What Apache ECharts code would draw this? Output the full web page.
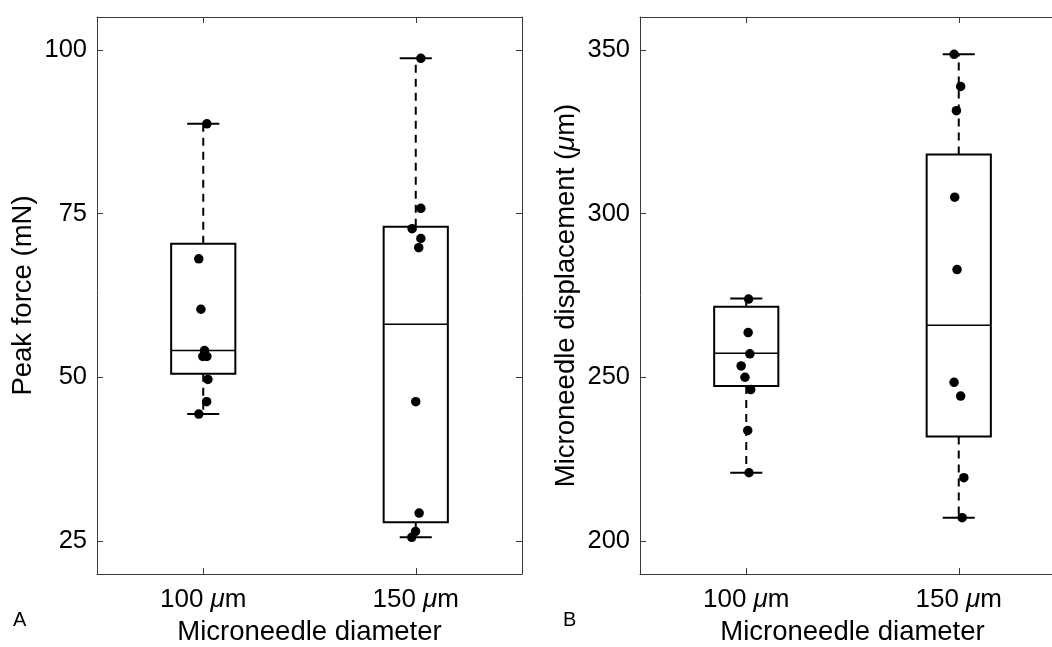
<!DOCTYPE html>
<html>
<head>
<meta charset="utf-8">
<script src="https://cdn.jsdelivr.net/npm/echarts@6/dist/echarts.min.js"></script>
<style>html,body{margin:0;padding:0;background:#fff}#c{width:1052px;height:647px}</style>
</head>
<body>
<div id="c"></div>
<script>
// ---- data ----
const categories = ['100', '150'];
const forceTicks = [25, 50, 75, 100];
const dispTicks = [200, 250, 300, 350];

// box stats: [lower whisker, Q1, median, Q3, upper whisker]
const forceBox100 = [44.4, 50.55, 54.1, 70.4, 88.7];
const forceBox150 = [25.6, 27.9, 58.1, 73.0, 98.7];
const dispBox100 = [220.9, 247.4, 257.4, 271.6, 274.1];
const dispBox150 = [207.2, 232.0, 265.9, 318.0, 348.6];

// individual points (values) and their horizontal jitter (category units)
const force100 = [88.7, 68.1, 60.4, 54.1, 53.2, 53.2, 49.7, 46.3, 44.4];
const force100Jit = [0.017, -0.021, -0.011, 0.006, -0.002, 0.017, 0.022, 0.016, -0.021];
const force150 = [98.7, 75.8, 72.7, 71.2, 69.8, 46.3, 29.3, 26.5, 25.6];
const force150Jit = [0.024, 0.024, -0.017, 0.024, 0.014, 0.0, 0.016, -0.001, -0.019];
const disp100 = [273.9, 263.7, 257.2, 253.5, 250.05, 246.3, 233.8, 220.9];
const disp100Jit = [0.011, 0.009, 0.017, -0.024, -0.006, 0.021, 0.007, 0.013];
const disp150 = [348.6, 338.8, 331.4, 305.0, 282.9, 248.5, 244.3, 219.4, 207.2];
const disp150Jit = [-0.022, 0.009, -0.011, -0.019, -0.008, -0.022, 0.009, 0.024, 0.016];

// ---- styling / layout ----
const FONT = "'Liberation Sans', Arial, Helvetica, sans-serif";
const FRAME = '#3a3a3a';

function pts(idx, vals, jit) {
  return vals.map((v, i) => [idx + jit[i], v]);
}

function renderBox(params, api) {
  const c = api.value(0);
  const lo = api.coord([c, api.value(1)]);
  const q1 = api.coord([c, api.value(2)]);
  const md = api.coord([c, api.value(3)]);
  const q3 = api.coord([c, api.value(4)]);
  const hi = api.coord([c, api.value(5)]);
  const band = api.size([1, 0])[0];
  const bw = band * 0.302, cw = bw * 0.5;
  const x = q1[0];
  const solid = {stroke: '#000', lineWidth: 2, fill: null};
  const dashed = {stroke: '#000', lineWidth: 2, lineDash: [8, 6], fill: null};
  return {
    type: 'group',
    children: [
      {type: 'line', shape: {x1: x, y1: q3[1], x2: x, y2: hi[1]}, style: dashed},
      {type: 'line', shape: {x1: x, y1: q1[1], x2: x, y2: lo[1]}, style: dashed},
      {type: 'line', shape: {x1: x - cw / 2, y1: hi[1], x2: x + cw / 2, y2: hi[1]}, style: solid},
      {type: 'line', shape: {x1: x - cw / 2, y1: lo[1], x2: x + cw / 2, y2: lo[1]}, style: solid},
      {type: 'rect', shape: {x: x - bw / 2, y: q3[1], width: bw, height: q1[1] - q3[1]},
        style: {stroke: '#000', lineWidth: 2, fill: 'none'}},
      {type: 'line', shape: {x1: x - bw / 2, y1: md[1], x2: x + bw / 2, y2: md[1]},
        style: {stroke: '#000', lineWidth: 1.5}}
    ]
  };
}

const catLabel = {
  color: '#000', margin: 13,
  formatter: v => '{n|' + v + ' }{i|\u03bc}{n|m}',
  rich: {
    n: {fontSize: 26, fontFamily: FONT, color: '#000'},
    i: {fontSize: 26, fontFamily: FONT, color: '#000', fontStyle: 'italic'}
  }
};

function xAxesFor(g) {
  return [
    {
      type: 'category', gridIndex: g, position: 'bottom', data: categories,
      name: 'Microneedle diameter', nameLocation: 'middle', nameGap: 44,
      nameTextStyle: {fontSize: 27.5, fontFamily: FONT, color: '#000'},
      axisLine: {show: true, onZero: false, lineStyle: {color: FRAME, width: 1}},
      axisTick: {show: true, inside: true, length: 6, alignWithLabel: true, lineStyle: {color: FRAME}},
      axisLabel: catLabel,
      splitLine: {show: false}
    },
    {
      type: 'category', gridIndex: g, position: 'top', data: categories,
      axisLine: {show: true, onZero: false, lineStyle: {color: FRAME, width: 1}},
      axisTick: {show: true, inside: true, length: 6, alignWithLabel: true, lineStyle: {color: FRAME}},
      axisLabel: {show: false}, splitLine: {show: false}
    },
    {
      type: 'value', gridIndex: g, min: -0.5, max: 1.5, show: false,
      axisLine: {show: false, onZero: false},
      splitLine: {show: false}
    }
  ];
}

function yAxesFor(g, min, max, ticks, name, rich) {
  return [
    {
      type: 'value', gridIndex: g, position: 'left', min: min, max: max,
      name: name, nameLocation: 'middle', nameGap: 60,
      nameTextStyle: {fontSize: 27.5, fontFamily: FONT, color: '#000', rich: rich},
      axisLine: {show: true, onZero: false, lineStyle: {color: FRAME, width: 1}},
      axisTick: {show: true, inside: true, length: 6, customValues: ticks, lineStyle: {color: FRAME}},
      axisLabel: {show: true, customValues: ticks, color: '#000', fontSize: 25.5, fontFamily: FONT, margin: 10},
      splitLine: {show: false}
    },
    {
      type: 'value', gridIndex: g, position: 'right', min: min, max: max,
      axisLine: {show: true, onZero: false, lineStyle: {color: FRAME, width: 1}},
      axisTick: {show: true, inside: true, length: 6, customValues: ticks, lineStyle: {color: FRAME}},
      axisLabel: {show: false}, splitLine: {show: false}
    }
  ];
}

const muRich = {
  i: {fontSize: 27.5, fontFamily: FONT, color: '#000', fontStyle: 'italic'}
};

const chart = echarts.init(document.getElementById('c'), null, {renderer: 'canvas'});
chart.setOption({
  backgroundColor: '#fff',
  animation: false,
  grid: [
    {left: 97, top: 17, width: 425, height: 557, outerBoundsMode: 'none', containLabel: false},
    {left: 640, top: 17, width: 425, height: 557, outerBoundsMode: 'none', containLabel: false}
  ],
  xAxis: [...xAxesFor(0), ...xAxesFor(1)],
  yAxis: [
    ...yAxesFor(0, 20, 105, forceTicks, 'Peak force (mN)', muRich),
    ...yAxesFor(1, 190, 360, dispTicks, 'Microneedle displacement ({i|\u03bc}m)', muRich)
  ],
  graphic: [
    {type: 'text', left: 13, top: 610, style: {text: 'A', font: "20px 'Liberation Sans', Arial", fill: '#000'}},
    {type: 'text', left: 563, top: 610, style: {text: 'B', font: "20px 'Liberation Sans', Arial", fill: '#000'}}
  ],
  series: [
    {
      type: 'custom', xAxisIndex: 0, yAxisIndex: 0,
      renderItem: renderBox,
      encode: {x: 0, y: [1, 2, 3, 4, 5]},
      data: [[0, ...forceBox100], [1, ...forceBox150]],
      clip: false, z: 2
    },
    {
      type: 'custom', xAxisIndex: 3, yAxisIndex: 2,
      renderItem: renderBox,
      encode: {x: 0, y: [1, 2, 3, 4, 5]},
      data: [[0, ...dispBox100], [1, ...dispBox150]],
      clip: false, z: 2
    },
    {
      type: 'scatter', xAxisIndex: 2, yAxisIndex: 0, symbol: 'circle', symbolSize: 9.5,
      itemStyle: {color: '#000', opacity: 1}, z: 5,
      data: [...pts(0, force100, force100Jit), ...pts(1, force150, force150Jit)]
    },
    {
      type: 'scatter', xAxisIndex: 5, yAxisIndex: 2, symbol: 'circle', symbolSize: 9.5,
      itemStyle: {color: '#000', opacity: 1}, z: 5,
      data: [...pts(0, disp100, disp100Jit), ...pts(1, disp150, disp150Jit)]
    }
  ]
});
</script>
</body>
</html>
